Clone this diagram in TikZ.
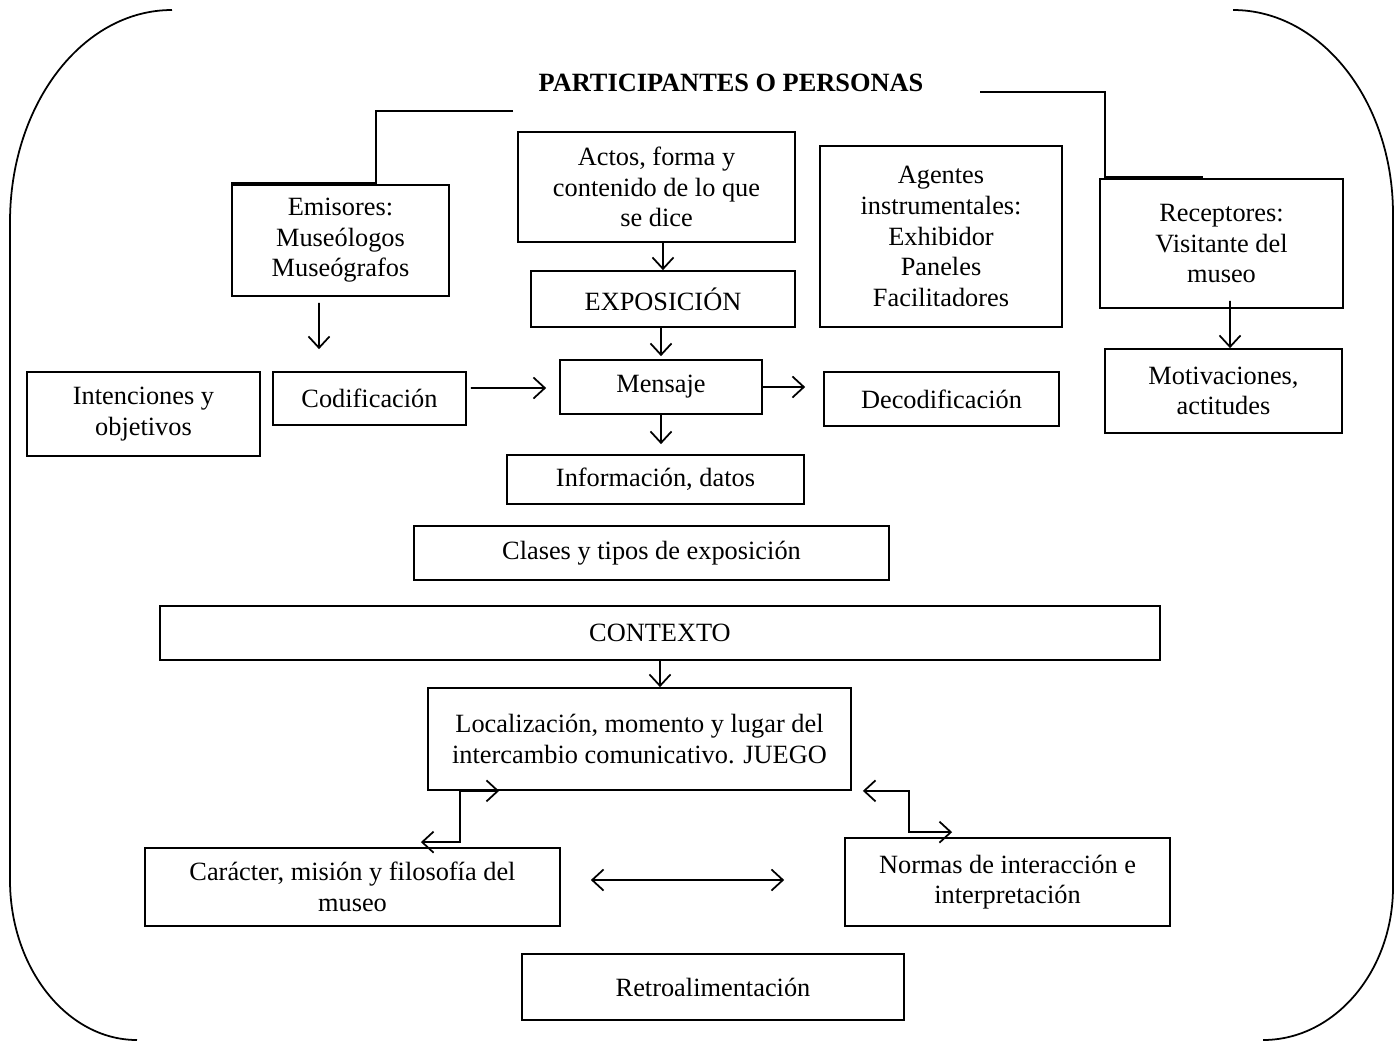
\documentclass[tikz,border=0pt]{standalone}
\usepackage{fontspec}
\setmainfont{Liberation Serif}
\usetikzlibrary{arrows.meta}

\tikzset{
    box/.style={draw, line width=1pt, align=center, inner sep=0pt, font=\fontsize{15}{17.4}\selectfont},
    link/.style={line width=1pt, >={Straight Barb[length=6.5pt,width=12pt]}},
}

\begin{document}
\begin{tikzpicture}[x=0.02cm, y=-0.02cm]
    \useasboundingbox (0,0) rectangle (1396,1042);

    % Outer frame
    \draw[line width=1pt] (172,10) .. controls (82,10) and (10,105) .. (10,222) -- (10,880) .. controls (10,968) and (67,1040) .. (137,1040);
    \draw[line width=1pt] (1233,10) .. controls (1321,10) and (1393,101) .. (1393,214) -- (1393,887) .. controls (1393,971) and (1335,1040) .. (1263,1040);

    % Participants
    \node[font=\fontsize{15}{17.4}\selectfont\bfseries] (titulo) at (731,83) {PARTICIPANTES O PERSONAS};
    \node[box, minimum width=4.34cm, minimum height=2.22cm] (emis) at (340.5,240.5) {Emisores:\\Museólogos\\Museógrafos};
    \node[box, minimum width=5.54cm, minimum height=2.2cm] (actos) at (656.5,187) {Actos, forma y\\contenido de lo que\\se dice};
    \node[box, minimum width=5.28cm, minimum height=1.12cm] (expo) at (663,299) {EXPOSICIÓN};
    \node[box, minimum width=4.84cm, minimum height=3.62cm] (agentes) at (941,236.5) {Agentes\\instrumentales:\\Exhibidor\\Paneles\\Facilitadores};
    \node[box, minimum width=4.86cm, minimum height=2.58cm] (recep) at (1221.5,243.5) {Receptores:\\Visitante del\\museo};
    \node[box, minimum width=4.74cm, minimum height=1.68cm] (motiv) at (1223.5,391) {Motivaciones,\\actitudes};

    % Message row
    \node[box, minimum width=4.66cm, minimum height=1.68cm] (inten) at (143.5,414) {Intenciones y\\objetivos};
    \node[box, minimum width=3.86cm, minimum height=1.06cm] (codif) at (369.5,398.5) {Codificación};
    \node[box, minimum width=4.04cm, minimum height=1.08cm] (mensaje) at (661,387) {Mensaje};
    \node[box, minimum width=4.7cm, minimum height=1.08cm] (decod) at (941.5,399) {Decodificación};
    \node[box, minimum width=5.94cm, minimum height=0.98cm] (info) at (655.5,479.5) {Información, datos};
    \node[box, minimum width=9.5cm, minimum height=1.08cm] (clases) at (651.5,553) {Clases y tipos de exposición};

    % Context
    \node[box, minimum width=20cm, minimum height=1.08cm] (contexto) at (660,633) {CONTEXTO};
    \node[box, minimum width=8.46cm, minimum height=2.04cm] (local) at (639.5,739) {Localización, momento y lugar del\\intercambio comunicativo. JUEGO};
    \node[box, minimum width=8.3cm, minimum height=1.56cm] (caract) at (352.5,887) {Carácter, misión y filosofía del\\museo};
    \node[box, minimum width=6.5cm, minimum height=1.76cm] (normas) at (1007.5,882) {Normas de interacción e\\interpretación};
    \node[box, minimum width=7.64cm, minimum height=1.32cm] (retro) at (713,987) {Retroalimentación};

    % Title branches
    \coordinate (tl) at (513,111);
    \coordinate (tlv) at (376,111);
    \coordinate (tr) at (980,92);
    \coordinate (trv) at (1105,92);
    \draw[line width=0.9pt] (tl) -- (tlv) -- (tlv |- emis.north);
    \draw[line width=2pt] (emis.north west) -- (tlv |- emis.north);
    \draw[line width=0.9pt] (tr) -- (trv) -- (trv |- recep.north);
    \draw[line width=2pt] (trv |- recep.north) -- ([xshift=1.96cm]trv |- recep.north);

    % Arrows
    \draw[link, ->] ([xshift=-0.43cm, yshift=-0.12cm]emis.south) -- ([xshift=-1.01cm, yshift=0.44cm]codif.north);
    \draw[link, ->] (actos.south -| expo.north) -- (expo.north);
    \draw[link, ->] (expo.south -| mensaje.north) -- ([yshift=0.06cm]mensaje.north);
    \draw[link, ->, shorten >=0.2cm] (mensaje.south) -- (mensaje.south |- info.north);
    \draw[link, ->, shorten <=0.08cm, shorten >=0.26cm] ([yshift=0.21cm]codif.east) -- ([yshift=-0.02cm]mensaje.west);
    \draw[link, ->, shorten >=0.36cm] (mensaje.east) -- (mensaje.east -| decod.west);
    \draw[link, ->] ([xshift=0.17cm, yshift=0.16cm]recep.south) -- ([xshift=0.13cm]motiv.north);
    \draw[link, ->] (contexto.south) -- (contexto.south |- local.north);
    \draw[link, <->] ([xshift=1.44cm]local.south west) -- ([xshift=0.66cm]local.south west) |- ([xshift=-2.8cm, yshift=0.1cm]caract.north east);
    \draw[link, <->] ([xshift=0.22cm]local.south east) -- ([xshift=1.14cm]local.south east) |- ([xshift=2.16cm, yshift=0.1cm]normas.north west);
    \draw[link, <->, shorten <=0.6cm, shorten >=1.2cm] ([yshift=0.14cm]caract.east) -- ([yshift=0.04cm]normas.west);
\end{tikzpicture}
\end{document}
